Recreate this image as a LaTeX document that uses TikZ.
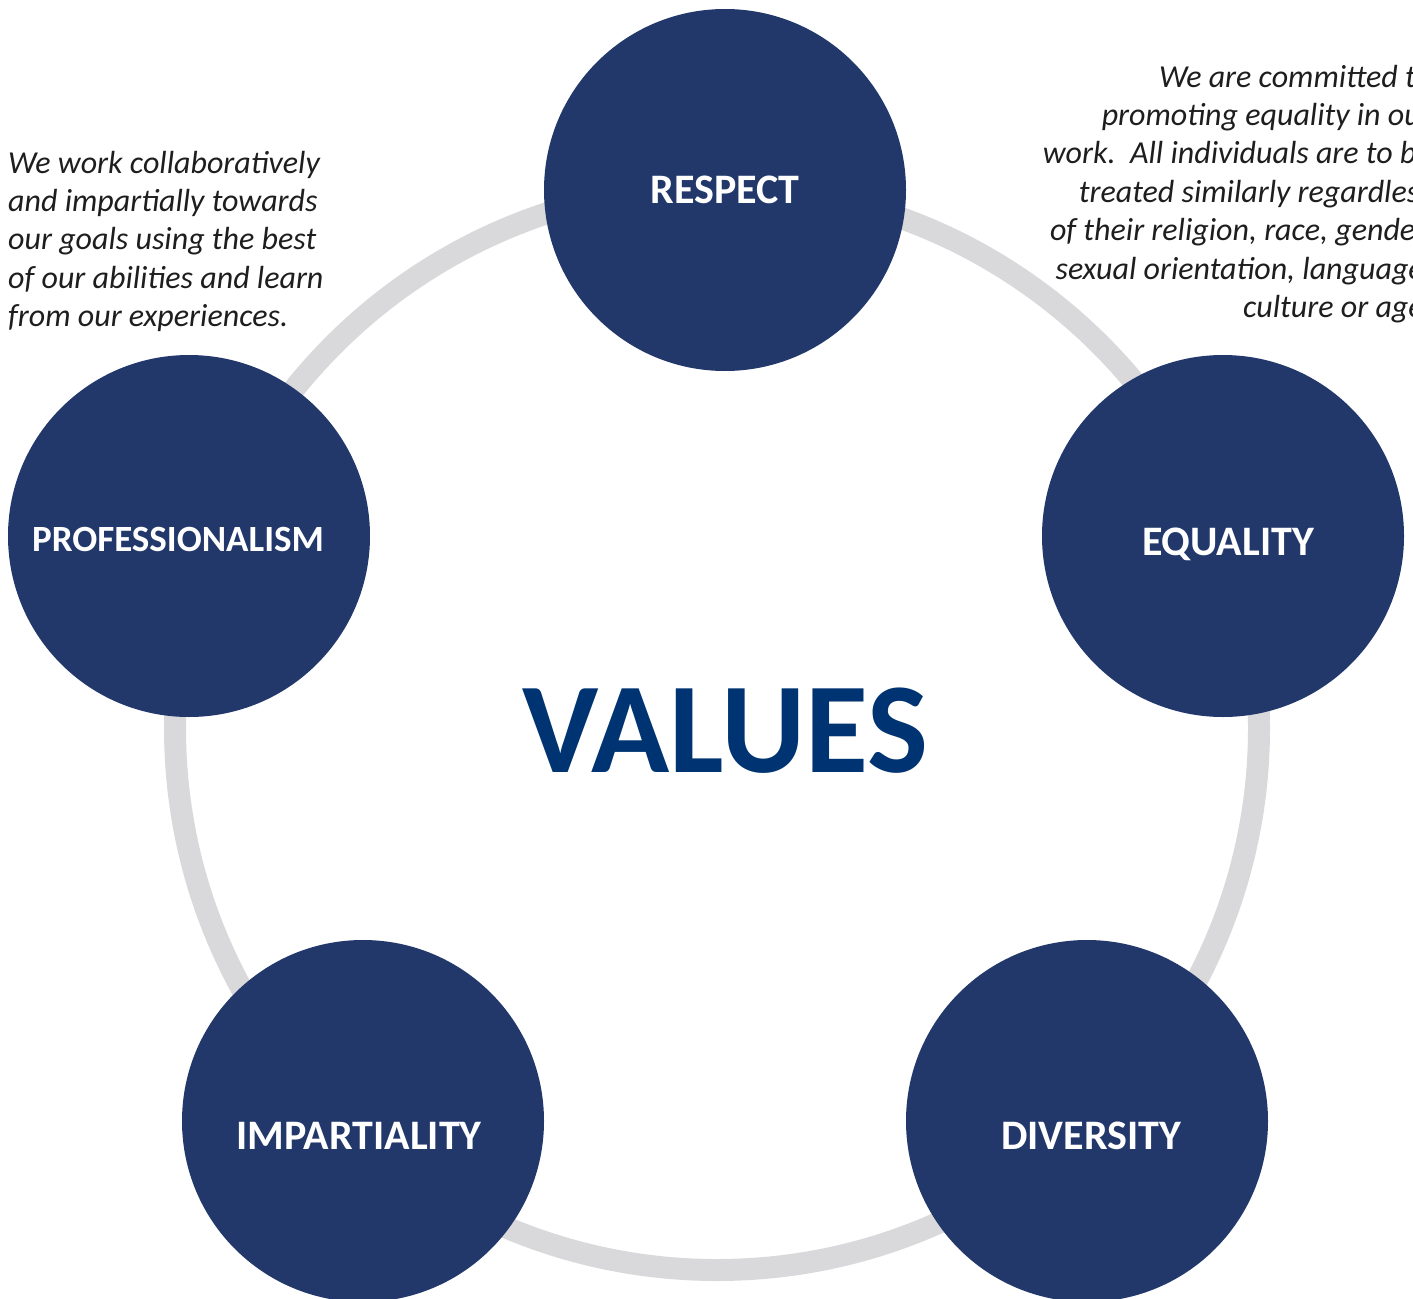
\documentclass[tikz,border=0pt]{standalone}
\usepackage{fontspec}
\setmainfont{Carlito}
\definecolor{navy}{HTML}{22386B}
\definecolor{valblue}{HTML}{003371}
\definecolor{ringgray}{HTML}{D9D9DB}
\definecolor{textgray}{HTML}{1E1E1E}
\begin{document}
\begin{tikzpicture}[x=1pt,y=-1pt,
  valuecircle/.style={circle, fill=navy, minimum size=362pt, inner sep=0pt},
  vlabel/.style={anchor=base, inner sep=0pt, text=white, font=\fontsize{42}{48}\selectfont\bfseries},
  ring/.style={draw=ringgray, line width=22pt},
  descl/.style={anchor=base west, inner sep=0pt, text=textgray, font=\fontsize{32}{38}\selectfont\itshape},
  descr/.style={anchor=base east, inner sep=0pt, text=textgray, font=\fontsize{32}{38}\selectfont\itshape}]
\useasboundingbox (0,0) rectangle (1413,1298);
\clip (0,0) rectangle (1413,1298);
\coordinate (ringc) at (717,728);
\draw[ring] (ringc) circle[radius=542];
\node[valuecircle] (respect) at (725,190) {};
\node[valuecircle] (equality) at (1223,536) {};
\node[valuecircle] (prof) at (189,536) {};
\node[valuecircle] (impart) at (363,1121) {};
\node[valuecircle] (divers) at (1087,1121) {};
\node[vlabel] (respectl) at (725,203) {RESPECT};
\node[vlabel] (equalityl) at (1228,555) {EQUALITY};
\node[vlabel, font=\fontsize{37}{42}\selectfont\bfseries] (profl) at (178,551) {PROFESSIONALISM};
\node[vlabel] (impartl) at (359,1149) {IMPARTIALITY};
\node[vlabel] (diversl) at (1091,1149) {DIVERSITY};
\node[anchor=base, inner sep=0pt, text=valblue, font=\fontsize{129}{134}\selectfont\bfseries] (values) at (725,772) {VALUES};
\node[descl] (l1) at (8,173) {We work collaboratively};
\node[descl] (l2) at (8,211.4) {and impartially towards};
\node[descl] (l3) at (8,249.8) {our goals using the best};
\node[descl] (l4) at (8,288.2) {of our abilities and learn};
\node[descl] (l5) at (8,326.6) {from our experiences.};
\node[descr] (r1) at (1432,87) {We are committed to};
\node[descr] (r2) at (1432,125.4) {promoting equality in our};
\node[descr] (r3) at (1432,163.8) {work.\ \ All individuals are to be};
\node[descr] (r4) at (1432,202.2) {treated similarly regardless};
\node[descr] (r5) at (1432,240.6) {of their religion, race, gender,};
\node[descr] (r6) at (1432,279) {sexual orientation, language,};
\node[descr] (r7) at (1432,317.4) {culture or age.};
\end{tikzpicture}
\end{document}
